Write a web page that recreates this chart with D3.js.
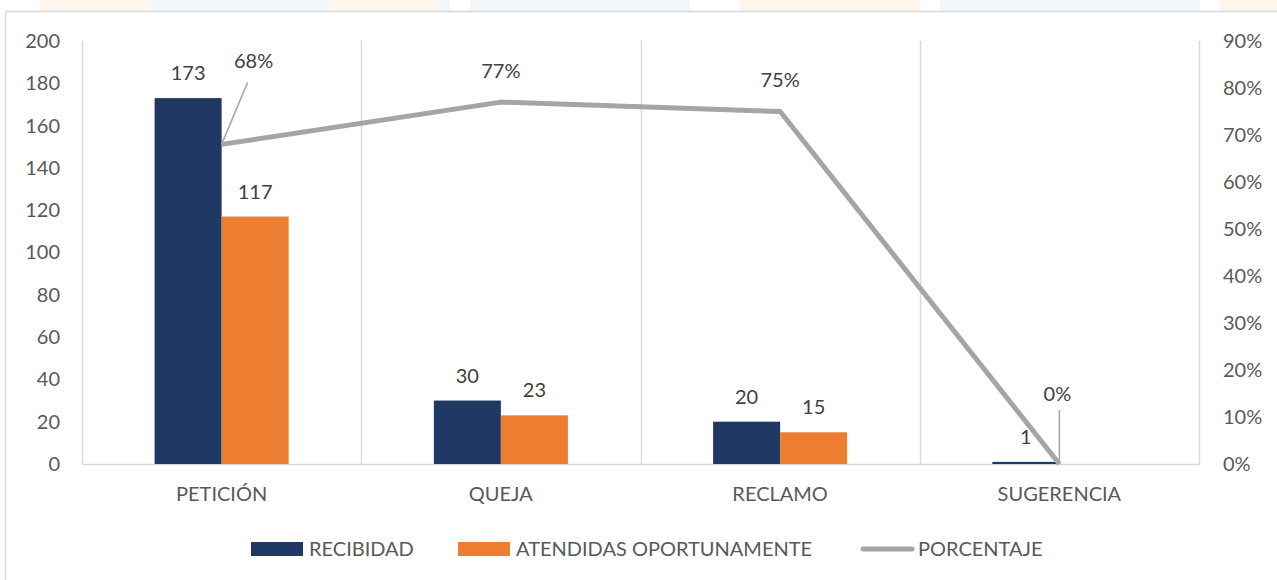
<!DOCTYPE html>
<html>
<head>
<meta charset="utf-8">
<script src="https://cdn.jsdelivr.net/npm/d3@7"></script>
<style>
  body { margin: 0; background: #fff; }
  svg { display: block; font-family: Lato, "Open Sans", sans-serif; }
</style>
</head>
<body>
<div id="chart"></div>
<script>
var categories = ["PETICIÓN", "QUEJA", "RECLAMO", "SUGERENCIA"];
var recibidas = [173, 30, 20, 1];
var atendidas = [117, 23, 15, 0];
var porcentaje = [0.68, 0.77, 0.75, 0];
var leftTicks = [0, 20, 40, 60, 80, 100, 120, 140, 160, 180, 200];
var rightTicks = [0, 0.1, 0.2, 0.3, 0.4, 0.5, 0.6, 0.7, 0.8, 0.9];
var seriesNames = ["RECIBIDAD", "ATENDIDAS OPORTUNAMENTE", "PORCENTAJE"];

var W = 1277, H = 580;
var margin = {top: 41, right: 78, bottom: 116, left: 82};
var width = W - margin.left - margin.right,
    height = H - margin.top - margin.bottom;

var blue = "#203864", orange = "#ED7D31", gray = "#A5A5A5", txt = "#595959";
var fs = "20px";

var svg = d3.select("#chart").append("svg")
  .attr("width", W).attr("height", H);

// faint watermark above the chart frame
var wm = svg.append("g");
[[40, 110, "#FEF5EC"], [150, 300, "#F3F6FA"], [330, 110, "#FEF5EC"], [470, 220, "#F3F6FA"],
 [740, 180, "#FEF5EC"], [940, 260, "#F3F6FA"], [1220, 57, "#FEF5EC"]].forEach(function(s) {
  wm.append("rect").attr("x", s[0]).attr("y", 0).attr("width", s[1]).attr("height", 11).attr("fill", s[2]);
});

// chart frame
svg.append("rect")
  .attr("x", 5.5).attr("y", 11.5).attr("width", W + 10).attr("height", H)
  .attr("fill", "#fff").attr("stroke", "#D9D9D9").attr("stroke-width", 1.5);

var g = svg.append("g")
  .attr("transform", "translate(" + margin.left + "," + margin.top + ")");

var x = d3.scaleBand().domain(categories).range([0, width]);
var x1 = d3.scaleBand().domain([0, 1]).range([0, x.bandwidth() * 0.48]);
var y = d3.scaleLinear().domain([0, 200]).range([height, 0]);
var y2 = d3.scaleLinear().domain([0, 0.9]).range([height, 0]);

// vertical gridlines between categories
var edges = categories.map(function(c) { return x(c); }).concat([width]);
g.selectAll(".vgrid").data(edges).enter().append("line")
  .attr("x1", function(d) { return Math.round(d) + 0.5; })
  .attr("x2", function(d) { return Math.round(d) + 0.5; })
  .attr("y1", 0).attr("y2", height)
  .attr("stroke", "#D9D9D9").attr("stroke-width", 1.5);

// left axis
var yAxis = g.append("g")
  .attr("transform", "translate(-22,0)")
  .call(d3.axisLeft(y).tickValues(leftTicks).tickSize(0).tickPadding(0));
yAxis.select(".domain").remove();
yAxis.selectAll("text").attr("fill", txt).style("font-size", fs).style("font-family", "Lato, sans-serif");

// right axis
var y2Axis = g.append("g")
  .attr("transform", "translate(" + (width + 24) + ",0)")
  .call(d3.axisRight(y2).tickValues(rightTicks).tickSize(0).tickPadding(0).tickFormat(d3.format(".0%")));
y2Axis.select(".domain").remove();
y2Axis.selectAll("text").attr("fill", txt).style("font-size", fs).style("font-family", "Lato, sans-serif");

// category axis
var xAxis = g.append("g")
  .attr("transform", "translate(0," + height + ")")
  .call(d3.axisBottom(x).tickSize(0).tickPadding(23));
xAxis.select(".domain").attr("stroke", "#D9D9D9").attr("stroke-width", 1.5);
xAxis.selectAll("text").attr("fill", txt).style("font-size", fs).style("font-family", "Lato, sans-serif");

// bars
var seriesData = [recibidas, atendidas];
var colors = [blue, orange];
var groups = g.selectAll(".cat").data(categories).enter().append("g")
  .attr("transform", function(d) { return "translate(" + (x(d) + x.bandwidth() / 2 - x1.range()[1] / 2) + ",0)"; });

groups.each(function(c, i) {
  var gg = d3.select(this);
  [0, 1].forEach(function(s) {
    var v = seriesData[s][i];
    if (v > 0) {
      gg.append("rect")
        .attr("x", x1(s)).attr("width", x1.bandwidth())
        .attr("y", y(v)).attr("height", height - y(v))
        .attr("fill", colors[s]);
      gg.append("text")
        .attr("x", x1(s) + x1.bandwidth() / 2)
        .attr("y", y(v) - 18)
        .attr("text-anchor", "middle")
        .attr("fill", "#404040").style("font-size", fs)
        .text(v);
    }
  });
});

// line
var cx = function(c) { return x(c) + x.bandwidth() / 2; };
var line = d3.line()
  .x(function(d, i) { return cx(categories[i]); })
  .y(function(d) { return y2(d); });
g.append("path").datum(porcentaje)
  .attr("d", line).attr("fill", "none")
  .attr("stroke", gray).attr("stroke-width", 5).attr("stroke-linejoin", "round");

// percentage labels, two of them moved by hand with a leader line
// [dx, dy of text baseline, leader dx, leader dy] relative to the point
var pctLabels = [[32, -76, 26, -62], [0, -24, null, null], [0, -25, null, null], [-2, -63, 0, -54]];
porcentaje.forEach(function(p, i) {
  var px = cx(categories[i]), py = y2(p);
  var o = pctLabels[i];
  if (o[2] !== null) {
    g.append("line")
      .attr("x1", px).attr("y1", py)
      .attr("x2", px + o[2]).attr("y2", py + o[3])
      .attr("stroke", gray).attr("stroke-width", 1.5);
  }
  g.append("text")
    .attr("x", px + o[0]).attr("y", py + o[1])
    .attr("text-anchor", "middle")
    .attr("fill", "#404040").style("font-size", fs)
    .text(d3.format(".0%")(p));
});

// legend
var legend = svg.append("g").attr("transform", "translate(0,549)");
var legendItems = [
  {x: 251, name: seriesNames[0], color: blue, type: "rect"},
  {x: 458, name: seriesNames[1], color: orange, type: "rect"},
  {x: 860, name: seriesNames[2], color: gray, type: "line"}
];
legendItems.forEach(function(d) {
  if (d.type === "rect") {
    legend.append("rect").attr("x", d.x).attr("y", -7).attr("width", 52).attr("height", 14).attr("fill", d.color);
  } else {
    legend.append("line").attr("x1", d.x + 3).attr("x2", d.x + 52).attr("y1", 0).attr("y2", 0)
      .attr("stroke", d.color).attr("stroke-width", 5).attr("stroke-linecap", "round");
  }
  legend.append("text").attr("x", d.x + 58).attr("y", 0).attr("dy", "0.35em")
    .attr("fill", txt).style("font-size", fs).text(d.name);
});
</script>
</body>
</html>
